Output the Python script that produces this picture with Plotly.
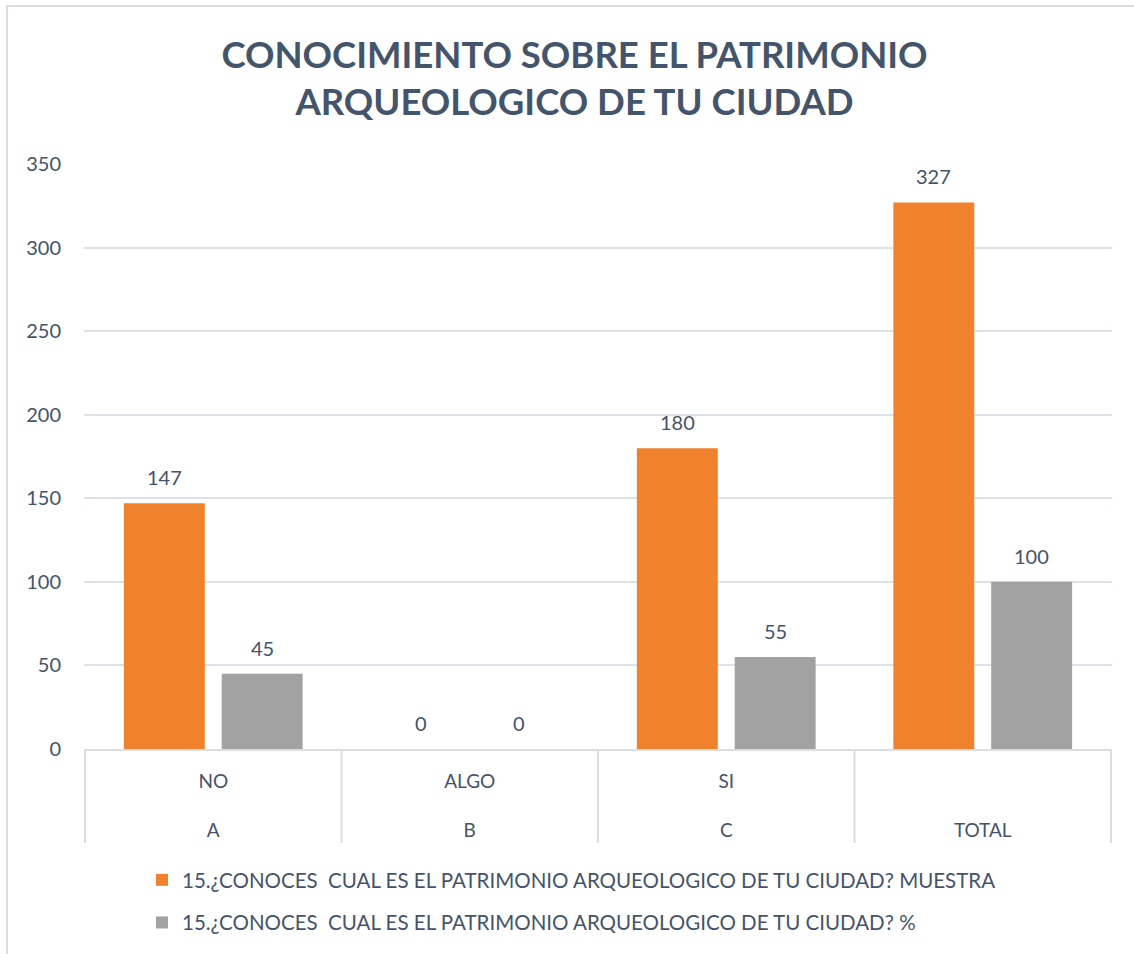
import plotly.graph_objects as go

outer = ["A", "B", "C", "TOTAL"]
inner = ["NO", "ALGO", "SI", " "]
muestra = [147, 0, 180, 327]
porcentaje = [45, 0, 55, 100]
name_muestra = "15.¿CONOCES  CUAL ES EL PATRIMONIO ARQUEOLOGICO DE TU CIUDAD? MUESTRA"
name_pct = "15.¿CONOCES  CUAL ES EL PATRIMONIO ARQUEOLOGICO DE TU CIUDAD? %"
y_ticks = [0, 50, 100, 150, 200, 250, 300, 350]

TXT = "#44546A"
FONT = "Lato"
LINEC = "#D9DEE5"

W, H = 1134, 954
L, R, T, B = 84, 22, 164, 205
PH = H - T - B  # plot height in px

fig = go.Figure()
fig.add_trace(go.Bar(
    x=outer, y=muestra, name=name_muestra, legendgroup="a",
    marker=dict(color="#F0822E", line=dict(width=0)),
))
fig.add_trace(go.Bar(
    x=outer, y=porcentaje, name=name_pct, legendgroup="b",
    marker=dict(color="#A2A2A2", line=dict(width=0)),
))

# value labels
for vals, dx in ((muestra, -49), (porcentaje, 49)):
    for c, v in zip(outer, vals):
        fig.add_annotation(x=c, y=v, xref="x", yref="y", text=str(v),
                           showarrow=False, xshift=dx, yshift=12, yanchor="bottom",
                           font=dict(family=FONT, size=20, color=TXT))

# category dividers below the axis
for i in range(len(outer) + 1):
    fig.add_shape(type="line", xref="x", yref="paper",
                  x0=i - 0.5, x1=i - 0.5, y0=0, y1=-94 / PH,
                  line=dict(color=LINEC, width=2))

# chart frame
fig.add_shape(type="rect", xref="paper", yref="paper",
              x0=-77 / 1028, x1=1.1, y0=-0.6, y1=(PH + T - 6) / PH,
              line=dict(color=LINEC, width=2), fillcolor="rgba(0,0,0,0)", layer="below")

fig.update_layout(
    width=W, height=H,
    margin=dict(l=L, r=R, t=T, b=B, autoexpand=False),
    paper_bgcolor="white", plot_bgcolor="white",
    font=dict(family=FONT, color=TXT, size=18),
    title=dict(
        text="<b>CONOCIMIENTO SOBRE EL PATRIMONIO<br>ARQUEOLOGICO DE TU CIUDAD</b>",
        x=574.5 / W, xanchor="center", y=1 - 68 / H, yanchor="middle",
        font=dict(family=FONT, size=36.5, color=TXT),
    ),
    barmode="group", bargap=0.237, bargroupgap=0.173,
    showlegend=True,
    legend=dict(
        orientation="v", x=(142 - L) / 1028, xanchor="left", y=-111 / PH, yanchor="top",
        font=dict(family=FONT, size=20.5, color=TXT), tracegroupgap=13,
        itemwidth=30,
    ),
    xaxis=dict(
        type="category", showgrid=False, showline=True, automargin=False,
        linecolor=LINEC, linewidth=2, ticks="",
        tickvals=outer,
        ticktext=[f"{i}<br><br>{o}" for i, o in zip(inner, outer)],
        tickfont=dict(family=FONT, size=19, color=TXT), ticklabelstandoff=14,
    ),
    yaxis=dict(
        range=[0, 350], tickvals=y_ticks, showgrid=True, gridcolor="#DDE2E8",
        gridwidth=2, zeroline=False, showline=False, ticks="", automargin=False,
        tickfont=dict(family=FONT, size=20, color=TXT), ticklabelstandoff=22,
    ),
)

fig.write_html("out.html", config={"displayModeBar": False},
               post_script="document.body.style.margin='0';")
